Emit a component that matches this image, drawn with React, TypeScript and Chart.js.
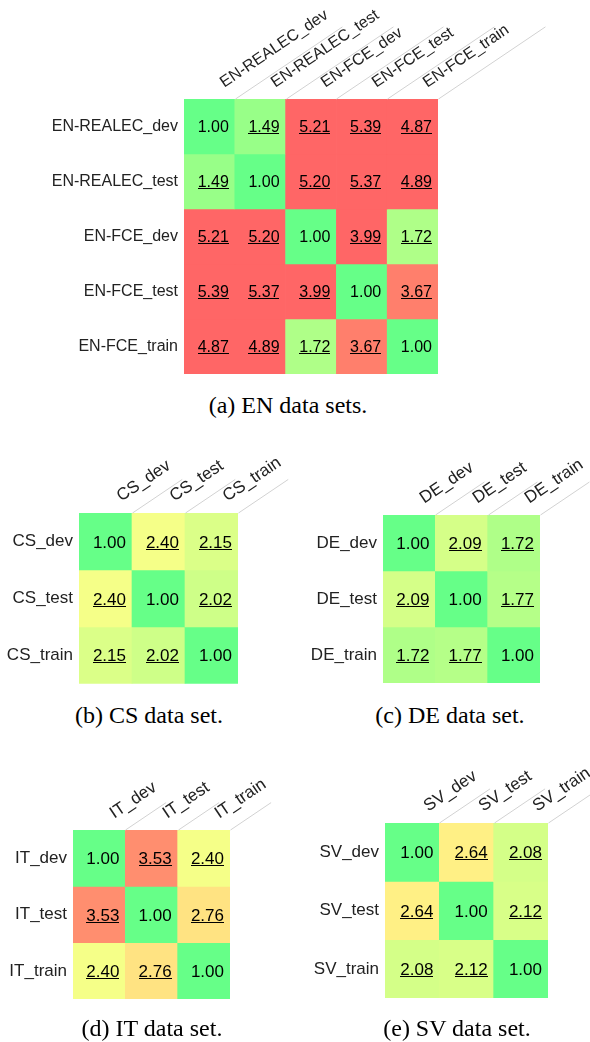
import React, { useEffect, useRef } from 'react';
import { Chart, registerables } from 'chart.js';

Chart.register(...registerables);

// ---------- data ----------
const enLabels = ['EN-REALEC_dev', 'EN-REALEC_test', 'EN-FCE_dev', 'EN-FCE_test', 'EN-FCE_train'];
const enValues = [
  [1.0, 1.49, 5.21, 5.39, 4.87],
  [1.49, 1.0, 5.2, 5.37, 4.89],
  [5.21, 5.2, 1.0, 3.99, 1.72],
  [5.39, 5.37, 3.99, 1.0, 3.67],
  [4.87, 4.89, 1.72, 3.67, 1.0],
];

const csLabels = ['CS_dev', 'CS_test', 'CS_train'];
const csValues = [
  [1.0, 2.4, 2.15],
  [2.4, 1.0, 2.02],
  [2.15, 2.02, 1.0],
];

const deLabels = ['DE_dev', 'DE_test', 'DE_train'];
const deValues = [
  [1.0, 2.09, 1.72],
  [2.09, 1.0, 1.77],
  [1.72, 1.77, 1.0],
];

const itLabels = ['IT_dev', 'IT_test', 'IT_train'];
const itValues = [
  [1.0, 3.53, 2.4],
  [3.53, 1.0, 2.76],
  [2.4, 2.76, 1.0],
];

const svLabels = ['SV_dev', 'SV_test', 'SV_train'];
const svValues = [
  [1.0, 2.64, 2.08],
  [2.64, 1.0, 2.12],
  [2.08, 2.12, 1.0],
];

const captions = ['(a) EN data sets.', '(b) CS data set.', '(c) DE data set.', '(d) IT data set.', '(e) SV data set.'];

// ---------- styles ----------
const SANS = "'Liberation Sans', Arial, Helvetica, sans-serif";
const SERIF = "'Liberation Serif', 'Times New Roman', Times, serif";

const colorStops: { v: number; c: number[] }[] = [
  { v: 1.0, c: [102, 255, 136] },
  { v: 2.5, c: [255, 255, 136] },
  { v: 3.9, c: [255, 102, 102] },
];

function cellColor(v: number): string {
  if (v <= colorStops[0].v) return `rgb(${colorStops[0].c.join(',')})`;
  const last = colorStops[colorStops.length - 1];
  if (v >= last.v) return `rgb(${last.c.join(',')})`;
  for (let i = 0; i < colorStops.length - 1; i++) {
    const a = colorStops[i];
    const b = colorStops[i + 1];
    if (v >= a.v && v <= b.v) {
      const t = (v - a.v) / (b.v - a.v);
      const c = a.c.map((x, k) => Math.round(x + (b.c[k] - x) * t));
      return `rgb(${c.join(',')})`;
    }
  }
  return '#fff';
}

type Box = { left: number; top: number; width: number; height: number };
type Grid = { l: number; t: number; r: number; b: number };

interface HeatProps {
  labels: string[];
  values: number[][];
  box: Box;
  grid: Grid;
  fontSize: number;
  lineLen: number;
}

const ANGLE = (34 * Math.PI) / 180;

function Heatmap({ labels, values, box, grid, fontSize, lineLen }: HeatProps) {
  const ref = useRef<HTMLCanvasElement | null>(null);

  useEffect(() => {
    if (!ref.current) return;
    const n = labels.length;

    const cellPlugin = {
      id: 'cellText',
      afterDatasetsDraw(chart: any) {
        const ctx = chart.ctx as CanvasRenderingContext2D;
        ctx.save();
        ctx.font = `${fontSize}px ${SANS}`;
        ctx.textAlign = 'right';
        ctx.textBaseline = 'alphabetic';
        ctx.fillStyle = '#000';
        chart.data.datasets.forEach((_ds: any, r: number) => {
          const meta = chart.getDatasetMeta(r);
          meta.data.forEach((bar: any, c: number) => {
            const p = bar.getProps(['x', 'y', 'base', 'width'], true);
            const right = p.x + p.width / 2 - 6;
            const cy = (p.y + p.base) / 2;
            const txt = values[r][c].toFixed(2);
            const bl = cy + fontSize * 0.36;
            ctx.fillText(txt, right, bl);
            if (r !== c) {
              const w = ctx.measureText(txt).width;
              ctx.fillRect(Math.round(right - w), Math.round(bl) + 1, Math.round(w), 1);
            }
          });
        });
        ctx.restore();
      },
      afterDraw(chart: any) {
        const ctx = chart.ctx as CanvasRenderingContext2D;
        const top = chart.chartArea.top;
        const meta = chart.getDatasetMeta(0);
        ctx.save();
        meta.data.forEach((bar: any, c: number) => {
          const p = bar.getProps(['x', 'width'], true);
          const xr = Math.round(p.x + p.width / 2) + 0.5;
          ctx.save();
          ctx.strokeStyle = '#d2d2d2';
          ctx.lineWidth = 1;
          ctx.beginPath();
          ctx.moveTo(xr, top);
          ctx.lineTo(xr + lineLen * Math.cos(ANGLE), top - lineLen * Math.sin(ANGLE));
          ctx.stroke();
          ctx.translate(xr, top);
          ctx.rotate(-ANGLE);
          ctx.font = `${fontSize}px ${SANS}`;
          ctx.fillStyle = '#222';
          ctx.textAlign = 'left';
          ctx.textBaseline = 'alphabetic';
          ctx.fillText(labels[c], -3, -15.5);
          ctx.restore();
        });
        ctx.restore();
      },
    };

    const chart = new Chart(ref.current, {
      type: 'bar',
      data: {
        labels,
        datasets: values.map((row, r) => ({
          label: labels[r],
          data: row.map(() => 1),
          backgroundColor: row.map(cellColor),
          borderWidth: 0,
          barPercentage: 1,
          categoryPercentage: 1,
        })),
      },
      options: {
        animation: false,
        responsive: false,
        maintainAspectRatio: false,
        devicePixelRatio: 1,
        events: [],
        layout: {
          padding: {
            left: 0,
            top: grid.t - box.top,
            right: box.left + box.width - grid.r,
            bottom: box.top + box.height - grid.b,
          },
        },
        plugins: {
          legend: { display: false },
          tooltip: { enabled: false },
          title: { display: false },
        },
        scales: {
          x: {
            type: 'category',
            display: false,
            stacked: true,
            offset: true,
            grid: { display: false },
          },
          y: {
            type: 'linear',
            min: 0,
            max: n,
            reverse: true,
            stacked: true,
            afterFit: (s: any) => {
              s.width = grid.l - box.left;
            },
            afterBuildTicks: (s: any) => {
              s.ticks = labels.map((_l, i) => ({ value: i + 0.5 }));
            },
            ticks: {
              autoSkip: false,
              padding: 6,
              color: '#222',
              font: { size: fontSize, family: SANS },
              callback: (_v: any, i: number) => labels[i],
            },
            grid: { display: false, drawTicks: false },
            border: { display: false },
          },
        },
      } as any,
      plugins: [cellPlugin],
    });
    return () => chart.destroy();
  }, [labels, values, box, grid, fontSize, lineLen]);

  return (
    <canvas
      ref={ref}
      width={box.width}
      height={box.height}
      style={{ position: 'absolute', left: box.left, top: box.top, width: box.width, height: box.height }}
    />
  );
}

function Caption({ text, cx, cy }: { text: string; cx: number; cy: number }) {
  return (
    <div
      style={{
        position: 'absolute',
        left: cx - 150,
        top: cy - 14,
        width: 300,
        height: 28,
        lineHeight: '28px',
        textAlign: 'center',
        fontFamily: SERIF,
        fontSize: 24,
        color: '#000',
        whiteSpace: 'nowrap',
      }}
    >
      {text}
    </div>
  );
}

const panels: HeatProps[] = [
  { labels: enLabels, values: enValues, box: { left: 0, top: 0, width: 590, height: 390 }, grid: { l: 184, t: 99, r: 438, b: 374 }, fontSize: 16, lineLen: 129 },
  { labels: csLabels, values: csValues, box: { left: 0, top: 440, width: 295, height: 260 }, grid: { l: 79, t: 513, r: 238, b: 684 }, fontSize: 17, lineLen: 60 },
  { labels: deLabels, values: deValues, box: { left: 295, top: 440, width: 295, height: 260 }, grid: { l: 383, t: 515, r: 540, b: 683 }, fontSize: 17, lineLen: 59 },
  { labels: itLabels, values: itValues, box: { left: 0, top: 760, width: 295, height: 260 }, grid: { l: 73, t: 830, r: 230, b: 999 }, fontSize: 17, lineLen: 49 },
  { labels: svLabels, values: svValues, box: { left: 295, top: 760, width: 295, height: 260 }, grid: { l: 385, t: 823, r: 548, b: 998 }, fontSize: 17, lineLen: 61 },
];

const captionPos = [
  { cx: 288, cy: 405 },
  { cx: 149, cy: 715 },
  { cx: 450, cy: 715 },
  { cx: 152, cy: 1028 },
  { cx: 457, cy: 1028 },
];

export default function App() {
  return (
    <div style={{ position: 'absolute', left: 0, top: 0, width: 590, height: 1042, background: '#fff', overflow: 'hidden' }}>
      {panels.map((p, i) => (
        <Heatmap key={i} {...p} />
      ))}
      {captions.map((t, i) => (
        <Caption key={i} text={t} cx={captionPos[i].cx} cy={captionPos[i].cy} />
      ))}
    </div>
  );
}
